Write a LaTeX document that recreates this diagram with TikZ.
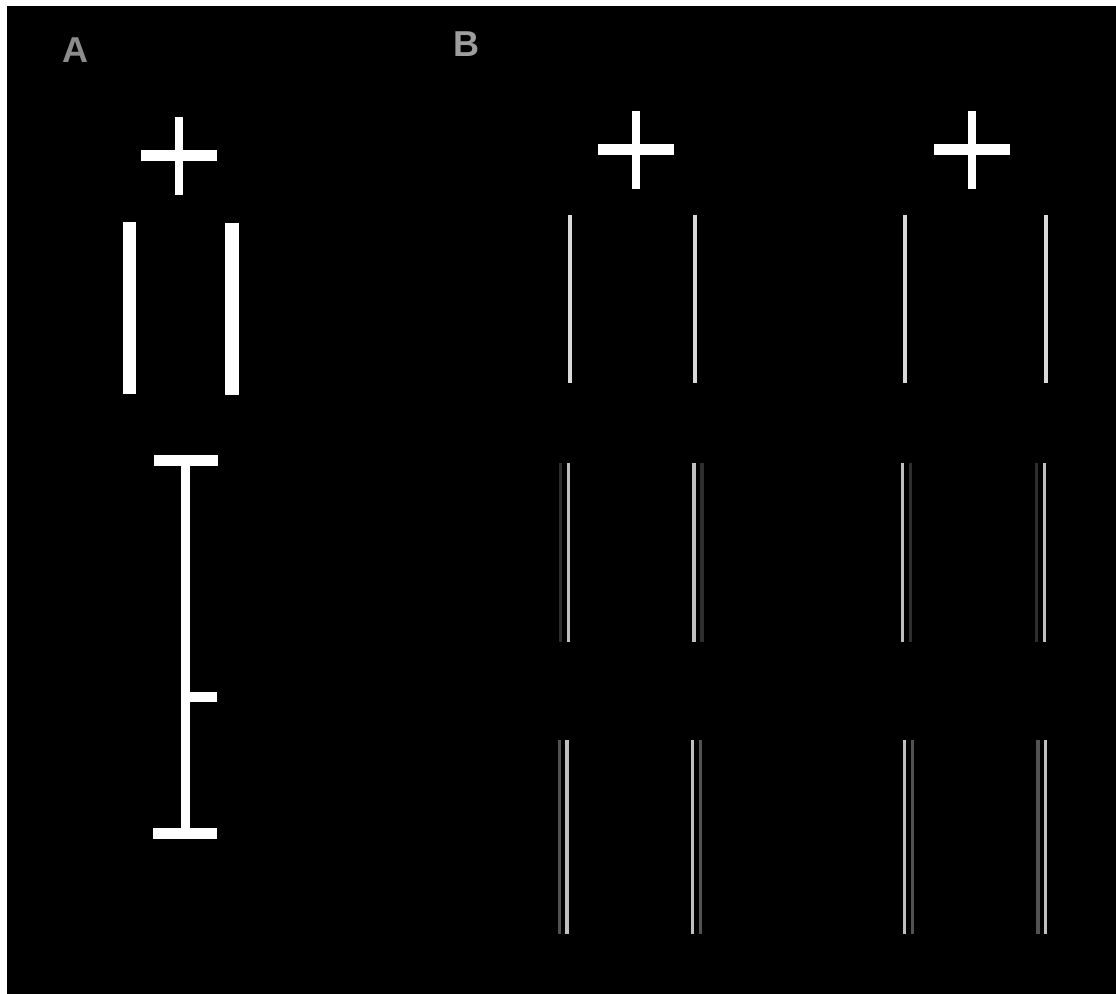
\documentclass[tikz,border=0pt]{standalone}
\usepackage{fontspec}
\setmainfont{Liberation Sans}
\definecolor{labelgray}{gray}{0.55}
\definecolor{linedim}{gray}{0.18}
\definecolor{linemid}{gray}{0.32}
\definecolor{linebright}{gray}{0.75}
\definecolor{linesingle}{gray}{0.85}
\begin{document}
\begin{tikzpicture}[x=0.02cm,y=-0.02cm,
  panel/.style={font=\bfseries\fontsize{20.5}{24}\selectfont, text=labelgray, inner sep=0pt},
  thinline/.style={line width=0.065cm}]
%黑底上的十字、竖条与细线，坐标按像素给出
\useasboundingbox (0,0) rectangle (1116,994);
\fill[white] (-4,-4) rectangle (1120,1000);
\fill[black] (7,6) rectangle (1120,1000);

\coordinate (LabelA) at (76,50);
\coordinate (LabelB) at (467,44);
\node[panel] (A) at (LabelA) {A};
\node[panel, text=labelgray!85!white] (B) at (LabelB) {B};

% fixation crosses
\foreach \cx/\cy in {179/155.5, 635.5/149.5, 972/149.5}
{
    \fill[white] (\cx-38,\cy-5.5) rectangle (\cx+38,\cy+5.5);
    \fill[white] (\cx-4,\cy-39) rectangle (\cx+4,\cy+39);
};

% panel A
\fill[white] (123,222) rectangle (136,394);
\fill[white] (225,223) rectangle (239,395);
\fill[white] (181,455) rectangle (190,839);
\fill[white] (154,455) rectangle (218,466);
\fill[white] (181,692) rectangle (217,702);
\fill[white] (153,828) rectangle (217,839);

% panel B
\foreach \x in {570,695,905,1046}
{
    \draw[thinline, linesingle] (\x,215) -- (\x,383);
};
\foreach \x/\c in
{ 560.5/linedim, 568.5/linebright,
    694/linebright, 702/linedim,
    902.5/linebright, 910.5/linedim,
    1036.5/linedim, 1044.5/linebright}
{
    \draw[thinline, \c] (\x,463) -- (\x,642);
};
\foreach \x/\c in
{ 559.5/linemid, 567/linebright,
    692.5/linebright, 700.5/linemid,
    904.5/linebright, 912.5/linemid,
    1038/linemid, 1045.5/linebright}
{
    \draw[thinline, \c] (\x,740) -- (\x,934);
};
\end{tikzpicture}
\end{document}
